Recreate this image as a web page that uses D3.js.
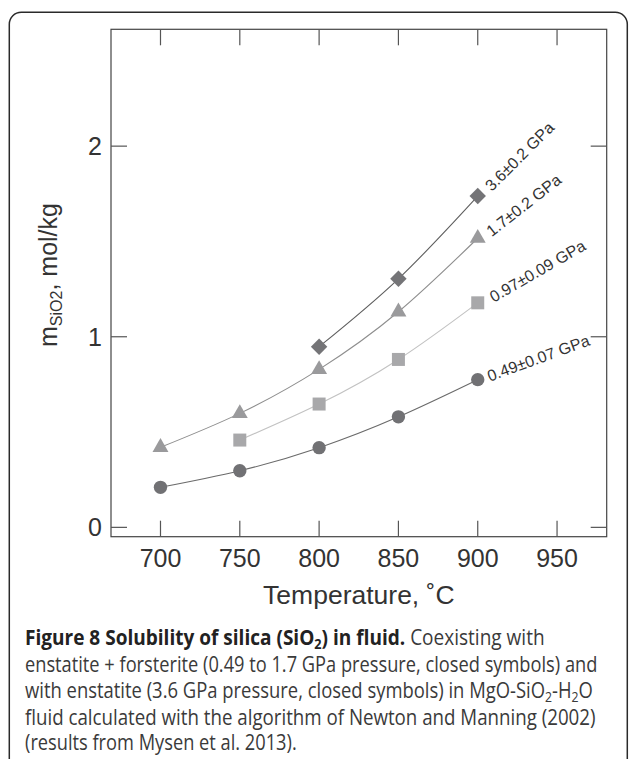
<!DOCTYPE html>
<html>
<head>
<meta charset="utf-8">
<script src="https://cdn.jsdelivr.net/npm/d3@7"></script>
<style>
  html, body { margin: 0; padding: 0; background: #fff; }
  svg { display: block; }
</style>
</head>
<body>
<div id="chart"></div>
<script>
// data
var temps = [700, 750, 800, 850, 900];
var m049 = [0.21, 0.297, 0.418, 0.58, 0.775];
var m097 = [null, 0.458, 0.647, 0.881, 1.178];
var m17 = [0.42, 0.598, 0.829, 1.131, 1.517];
var m36 = [null, null, 0.948, 1.304, 1.738];
var seriesLabels = ["0.49\u00b10.07 GPa", "0.97\u00b10.09 GPa", "1.7\u00b10.2 GPa", "3.6\u00b10.2 GPa"];
var xTicks = [700, 750, 800, 850, 900, 950];
var yTicks = [0, 1, 2];

var W = 629, H = 759;
var pLeft = 111, pRight = 606.7, pTop = 29.3, pBottom = 536.7;

var svg = d3.select("#chart").append("svg")
  .attr("width", W)
  .attr("height", H);

// outer rounded box
svg.append("rect")
  .attr("x", 9.3).attr("y", 12.3)
  .attr("width", 618).attr("height", 800)
  .attr("rx", 12).attr("ry", 12)
  .attr("fill", "none")
  .attr("stroke", "#2a2a2a")
  .attr("stroke-width", 1.5);

var x = d3.scaleLinear().domain([668.8, 981.3]).range([pLeft, pRight]);
var y = d3.scaleLinear().domain([-0.049, 2.613]).range([pBottom, pTop]);

// frame
svg.append("rect")
  .attr("x", pLeft).attr("y", pTop)
  .attr("width", pRight - pLeft).attr("height", pBottom - pTop)
  .attr("fill", "none")
  .attr("stroke", "#444")
  .attr("stroke-width", 1.2);

// ticks, all pointing inside
var tickLen = 16;
var gAx = svg.append("g").attr("stroke", "#555").attr("stroke-width", 1.2);
xTicks.forEach(function (t) {
  gAx.append("line").attr("x1", x(t)).attr("x2", x(t)).attr("y1", pBottom).attr("y2", pBottom - tickLen);
  gAx.append("line").attr("x1", x(t)).attr("x2", x(t)).attr("y1", pTop).attr("y2", pTop + tickLen);
});
yTicks.forEach(function (t) {
  gAx.append("line").attr("x1", pLeft).attr("x2", pLeft + tickLen).attr("y1", y(t)).attr("y2", y(t));
  gAx.append("line").attr("x1", pRight).attr("x2", pRight - tickLen).attr("y1", y(t)).attr("y2", y(t));
});

var font = "'Liberation Sans', Arial, Helvetica, sans-serif";

svg.append("g").selectAll("text").data(xTicks).join("text")
  .attr("x", function (d) { return x(d); })
  .attr("y", 566.7)
  .attr("text-anchor", "middle")
  .attr("font-family", font).attr("font-size", 25)
  .attr("fill", "#333")
  .text(function (d) { return d; });

svg.append("g").selectAll("text").data(yTicks).join("text")
  .attr("x", 102)
  .attr("y", function (d) { return y(d); })
  .attr("dy", "0.36em")
  .attr("text-anchor", "end")
  .attr("font-family", font).attr("font-size", 25)
  .attr("fill", "#333")
  .text(function (d) { return d; });

// axis titles
svg.append("text")
  .attr("x", (pLeft + pRight) / 2)
  .attr("y", 604)
  .attr("text-anchor", "middle")
  .attr("font-family", font).attr("font-size", 26.5)
  .attr("fill", "#333")
  .text("Temperature, \u02daC");

var yl = svg.append("text")
  .attr("transform", "translate(57," + ((pTop + pBottom) / 2 - 8) + ") rotate(-90)")
  .attr("text-anchor", "middle")
  .attr("font-family", font).attr("font-size", 25)
  .attr("fill", "#333");
yl.append("tspan").text("m");
yl.append("tspan").attr("font-size", 16).attr("dy", 5).text("SiO2");
yl.append("tspan").attr("dy", -5).text(", mol/kg");

// series
var series = [
  { vals: m049, label: seriesLabels[0], shape: "circle", fill: "#717174", line: "#6a6a6a", angle: -20, dx: 12, dy: 2 },
  { vals: m097, label: seriesLabels[1], shape: "square", fill: "#a8a8aa", line: "#c2c2c2", angle: -30, dx: 16, dy: 0 },
  { vals: m17, label: seriesLabels[2], shape: "triangle", fill: "#9a9a9c", line: "#8e8e8e", angle: -38, dx: 14, dy: -1 },
  { vals: m36, label: seriesLabels[3], shape: "diamond", fill: "#747477", line: "#5e5e5e", angle: -45, dx: 14, dy: -4 }
];

var line = d3.line()
  .x(function (d) { return x(d[0]); })
  .y(function (d) { return y(d[1]); })
  .curve(d3.curveNatural);

function symbolFor(shape) {
  if (shape === "circle") return d3.symbol(d3.symbolCircle, 140)();
  if (shape === "square") return d3.symbol(d3.symbolSquare, 169)();
  if (shape === "triangle") return d3.symbol(d3.symbolTriangle, 110)();
  return d3.symbol(d3.symbolSquare, 135)();
}

series.forEach(function (s) {
  var pts = temps.map(function (t, i) { return [t, s.vals[i]]; })
    .filter(function (p) { return p[1] != null; });

  svg.append("path")
    .attr("d", line(pts))
    .attr("fill", "none")
    .attr("stroke", s.line)
    .attr("stroke-width", 1.1);

  svg.append("g").selectAll("path").data(pts).join("path")
    .attr("d", symbolFor(s.shape))
    .attr("transform", function (d) {
      return "translate(" + x(d[0]) + "," + y(d[1]) + ")" + (s.shape === "diamond" ? " rotate(45)" : "");
    })
    .attr("fill", s.fill);

  var last = pts[pts.length - 1];
  svg.append("text")
    .attr("transform", "translate(" + (x(last[0]) + s.dx) + "," + (y(last[1]) + s.dy) + ") rotate(" + s.angle + ")")
    .attr("font-family", font).attr("font-size", 16)
    .attr("fill", "#333")
    .text(s.label);
});

// caption
var capFont = "'Open Sans', 'Noto Sans', sans-serif";
var capX = 25;
var capLines = [
  { y: 645, w: 520 },
  { y: 671.5, w: 573 },
  { y: 698, w: 568 },
  { y: 724.5, w: 571 },
  { y: 750, w: 272 }
];

function capText() {
  return svg.append("text")
    .attr("x", 0).attr("y", 0)
    .attr("font-family", capFont).attr("font-size", 21)
    .attr("fill", "#3a3a3a");
}

var c0 = capText();
c0.append("tspan").attr("font-weight", "bold").attr("fill", "#222").text("Figure 8 Solubility of silica (SiO");
c0.append("tspan").attr("font-weight", "bold").attr("fill", "#222").attr("font-size", 14).attr("dy", 4).text("2");
c0.append("tspan").attr("font-weight", "bold").attr("fill", "#222").attr("dy", -4).text(") in fluid.");
c0.append("tspan").text(" Coexisting with");

var c1 = capText();
c1.text("enstatite + forsterite (0.49 to 1.7 GPa pressure, closed symbols) and");

var c2 = capText();
c2.append("tspan").text("with enstatite (3.6 GPa pressure, closed symbols) in MgO-SiO");
c2.append("tspan").attr("font-size", 14).attr("dy", 4).text("2");
c2.append("tspan").attr("dy", -4).text("-H");
c2.append("tspan").attr("font-size", 14).attr("dy", 4).text("2");
c2.append("tspan").attr("dy", -4).text("O");

var c3 = capText();
c3.text("fluid calculated with the algorithm of Newton and Manning (2002)");

var c4 = capText();
c4.text("(results from Mysen et al. 2013).");

[c0, c1, c2, c3, c4].forEach(function (t, i) {
  var w = t.node().getBBox().width;
  var k = capLines[i].w / w;
  t.attr("transform", "translate(" + capX + "," + capLines[i].y + ") scale(" + k + ",1)");
});
</script>
</body>
</html>
